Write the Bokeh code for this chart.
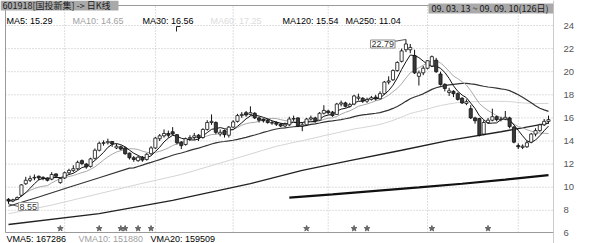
import pandas as pd
from bokeh.plotting import figure
from bokeh.models import Range1d, FixedTicker, Label
from bokeh.embed import file_html
from bokeh.resources import INLINE

# ---------------- data: 601918 daily bars, 2009-03-13 .. 2009-09-10 ----------------
opens = [8.95, 8.80, 8.95, 9.30, 10.30, 10.60, 10.80, 10.95, 10.85, 10.80,
         10.70, 11.15, 10.40, 10.80, 11.25, 11.45, 11.60, 12.30, 12.00, 11.80,
         12.50, 13.20, 13.80, 13.85, 13.95, 13.40, 13.50, 13.40, 12.95, 12.55,
         12.30, 12.60, 12.40, 12.90, 13.40, 14.20, 14.45, 14.65, 14.80, 14.55,
         13.90, 13.70, 14.20, 14.30, 14.50, 14.30, 15.00, 15.60, 15.60, 14.60,
         14.90, 14.50, 15.20, 15.70, 16.20, 16.45, 16.30, 16.40, 16.00, 15.90,
         15.80, 15.55, 15.60, 15.45, 15.30, 15.40, 15.90, 16.00, 15.30, 15.40,
         15.90, 16.00, 15.80, 16.40, 16.60, 16.50, 16.30, 17.20, 17.30, 17.00,
         17.20, 17.70, 17.70, 17.45, 17.60, 17.80, 17.65, 18.10, 19.10, 19.30,
         20.10, 20.90, 21.90, 21.90, 21.40, 19.60, 19.90, 20.30, 20.50, 21.00,
         19.80, 18.90, 18.20, 18.30, 18.10, 17.70, 17.25, 16.80, 16.00, 15.95,
         14.60, 15.60, 15.80, 16.10, 15.85, 15.90, 16.00, 15.20, 13.60, 13.45,
         13.50, 13.90, 14.60, 14.90, 15.40, 15.70]
highs = [9.05, 9.00, 9.20, 10.25, 10.90, 11.00, 11.10, 11.00, 10.95, 10.85,
         11.30, 11.20, 10.85, 11.35, 11.60, 11.90, 12.30, 12.40, 12.10, 12.55,
         13.35, 13.95, 14.05, 14.20, 14.00, 13.75, 13.60, 13.50, 13.00, 12.70,
         12.70, 12.70, 12.95, 13.55, 14.35, 14.60, 15.00, 14.90, 15.20, 14.60,
         14.00, 14.30, 14.50, 14.70, 14.60, 15.10, 15.80, 16.30, 15.70, 15.00,
         15.00, 15.30, 15.80, 16.35, 16.50, 16.60, 17.00, 16.50, 16.10, 15.95,
         15.90, 15.75, 15.70, 15.55, 15.60, 16.10, 16.20, 16.05, 15.60, 16.00,
         16.20, 16.10, 16.50, 17.10, 16.70, 16.60, 17.30, 17.50, 17.40, 17.30,
         18.00, 18.10, 17.80, 17.75, 17.90, 18.00, 18.30, 19.20, 19.60, 20.20,
         20.90, 22.00, 22.79, 22.40, 21.90, 20.10, 20.50, 21.00, 21.40, 21.20,
         20.00, 19.00, 18.60, 18.40, 18.20, 17.80, 17.60, 17.10, 16.10, 16.00,
         15.80, 16.00, 16.80, 16.20, 16.10, 16.60, 16.10, 15.30, 13.80, 13.70,
         14.00, 14.70, 15.10, 15.50, 15.90, 16.20]
lows = [8.55, 8.70, 8.90, 9.20, 10.20, 10.45, 10.60, 10.60, 10.60, 10.50,
        10.60, 10.80, 10.30, 10.70, 11.10, 11.30, 11.50, 11.90, 11.60, 11.70,
        12.40, 13.10, 13.60, 13.70, 13.50, 13.30, 13.20, 12.80, 12.40, 12.20,
        12.20, 12.20, 12.30, 12.80, 13.30, 14.00, 14.30, 14.30, 14.50, 13.70,
        13.30, 13.60, 14.00, 14.10, 14.00, 14.20, 14.90, 15.40, 14.60, 14.40,
        14.30, 14.30, 15.10, 15.60, 16.00, 16.10, 16.20, 15.90, 15.60, 15.60,
        15.50, 15.40, 15.30, 15.20, 15.20, 15.30, 15.70, 15.20, 14.85, 15.30,
        15.80, 15.60, 15.75, 16.30, 16.30, 16.10, 16.25, 17.00, 16.90, 16.90,
        17.10, 17.50, 17.30, 17.30, 17.50, 17.50, 17.60, 18.00, 18.90, 19.20,
        20.00, 20.80, 21.70, 21.60, 19.80, 18.80, 19.70, 20.20, 20.40, 19.90,
        18.80, 18.30, 17.90, 17.80, 17.50, 17.20, 17.10, 15.90, 15.50, 14.40,
        14.50, 15.50, 15.70, 15.70, 15.70, 15.80, 15.10, 13.80, 13.30, 13.30,
        13.40, 13.80, 14.40, 14.80, 15.30, 15.50]
closes = [8.80, 8.90, 9.10, 10.20, 10.60, 10.75, 10.85, 10.80, 10.75, 10.60,
          11.10, 10.95, 10.75, 11.25, 11.45, 11.60, 12.15, 12.05, 11.75, 12.45,
          13.20, 13.80, 13.85, 13.95, 13.75, 13.55, 13.30, 12.90, 12.55, 12.40,
          12.60, 12.35, 12.85, 13.40, 14.25, 14.45, 14.65, 14.50, 14.60, 13.85,
          13.60, 14.20, 14.30, 14.45, 14.30, 15.00, 15.60, 15.70, 14.75, 14.75,
          14.55, 15.20, 15.65, 16.20, 16.30, 16.25, 16.45, 16.00, 15.80, 15.75,
          15.60, 15.60, 15.45, 15.30, 15.45, 15.90, 15.95, 15.30, 15.40, 15.90,
          16.00, 15.75, 16.40, 16.65, 16.45, 16.20, 17.20, 17.30, 17.00, 17.15,
          17.90, 17.80, 17.45, 17.60, 17.75, 17.65, 18.10, 19.10, 19.20, 20.10,
          20.80, 21.80, 22.40, 22.10, 19.90, 19.90, 20.30, 20.95, 21.30, 20.00,
          18.90, 18.55, 18.35, 18.10, 17.60, 17.30, 17.40, 16.00, 15.75, 14.50,
          15.60, 15.80, 16.10, 15.85, 15.90, 16.05, 15.25, 13.90, 13.50, 13.55,
          13.85, 14.60, 14.90, 15.40, 15.70, 15.85]

# leading part of the 30/60-day averages (earlier sessions are outside the window)
ma30_head_idx = [0, 7, 14, 21, 28]
ma30_head_val = [8.35, 9.15, 10.00, 10.82, 11.65]
ma60_head_idx = [0, 10, 20, 30, 40, 50]
ma60_head_val = [7.70, 8.45, 9.35, 10.25, 11.10, 12.20]
# long averages sampled along the window
ma120_idx = [0, 21, 38, 56, 68, 79, 91, 102, 114, 125]
ma120_val = [6.77, 7.72, 8.85, 10.30, 11.45, 12.30, 13.20, 14.05, 14.80, 15.54]
ma250_idx = [65, 75, 85, 95, 105, 115, 125]
ma250_val = [9.10, 9.38, 9.68, 9.98, 10.30, 10.66, 11.04]

price_ticks = [6, 8, 10, 12, 14, 16, 18, 20, 22, 24]
month_start_idx = [13, 34, 52, 74, 97, 118]
event_idx = [12, 21, 26, 27, 30, 33, 69, 80, 83, 98, 111]
vma_names = ["VMA5", "VMA10", "VMA20"]
vma_values = [167286, 151880, 159509]
volume_top_tick = 500000
stock_title = "601918[国投新集] -> 日K线"
date_span = "09. 03. 13 ~ 09. 09. 10(126日)"

# ---------------- derived series ----------------
n = len(closes)
idx = list(range(n))
cs = pd.Series(closes)
ma5 = cs.rolling(5, min_periods=1).mean()
ma10 = cs.rolling(10, min_periods=1).mean()
ma30 = cs.rolling(30).mean()
ma60 = cs.rolling(60).mean()
ma30_x = ma30_head_idx + idx[29:]
ma30_y = ma30_head_val + list(ma30[29:])
ma60_x = ma60_head_idx + idx[59:]
ma60_y = ma60_head_val + list(ma60[59:])

# ---------------- canvas geometry (pixel helpers) ----------------
STEP = 4.32
X_FIRST = 8
PANEL_R = 553


def px_x(px):
    return (px - X_FIRST) / STEP


def px_y(py):
    return 24 - (py - 25) / 11.55


p = figure(width=600, height=243, output_backend="svg", toolbar_location=None,
           x_range=Range1d(px_x(0), px_x(PANEL_R)),
           y_range=Range1d(px_y(243), px_y(0)),
           x_axis_location=None, y_axis_location="right",
           min_border_left=0, min_border_right=47,
           min_border_top=0, min_border_bottom=0)
p.outline_line_color = None
p.grid.visible = False
p.background_fill_color = "white"

ax = p.yaxis[0]
ax.ticker = FixedTicker(ticks=price_ticks)
ax.axis_line_color = None
ax.major_tick_line_color = None
ax.minor_tick_line_color = None
ax.major_label_standoff = 4
ax.major_label_text_font = "Liberation Sans"
ax.major_label_text_font_size = "9.5px"
ax.major_label_text_color = "#555555"

# dotted grid
grid_levels = price_ticks[1:]
p.segment(x0=px_x(5), x1=px_x(PANEL_R), y0=grid_levels, y1=grid_levels,
          line_color="#bdbdbd", line_dash="1 2", line_width=1)
p.segment(x0=month_start_idx, x1=month_start_idx, y0=px_y(232), y1=px_y(5),
          line_color="#bdbdbd", line_dash="1 2", line_width=1)

# panel border
p.segment(x0=[px_x(5), px_x(PANEL_R), px_x(5), px_x(5)],
          x1=[px_x(5), px_x(PANEL_R), px_x(PANEL_R), px_x(PANEL_R)],
          y0=[px_y(5), px_y(0), px_y(232), px_y(5)],
          y1=[px_y(232), px_y(243), px_y(232), px_y(5)],
          line_color="#9a9a9a", line_width=1)

# moving averages
p.line(ma250_idx, ma250_val, line_color="#111111", line_width=2.2)
p.line(ma120_idx, ma120_val, line_color="#222222", line_width=1.3)
p.line(ma60_x, ma60_y, line_color="#d4d4d4", line_width=1)
p.line(ma30_x, ma30_y, line_color="#333333", line_width=1.2)
p.line(idx, list(ma10), line_color="#a8a8a8", line_width=1)
p.line(idx, list(ma5), line_color="#111111", line_width=1)

# candles
up = [c >= o for o, c in zip(opens, closes)]
body_top = [max(o, c) for o, c in zip(opens, closes)]
body_bot = [min(o, c) for o, c in zip(opens, closes)]
body_fill = ["white" if u else "#3a3a3a" for u in up]
p.segment(x0=idx, x1=idx, y0=lows, y1=highs, line_color="#111111", line_width=1)
p.vbar(x=idx, width=0.72, top=body_top, bottom=body_bot,
       fill_color=body_fill, line_color="#111111", line_width=0.8)

# high / low markers
hi_i = highs.index(max(highs))
lo_i = lows.index(min(lows))
p.segment(x0=hi_i, y0=max(highs), x1=px_x(393), y1=px_y(41),
          line_color="#555555", line_width=1)
p.add_layout(Label(x=px_x(370), y=px_y(43.5), text=f"{max(highs):.2f}",
                   text_font="Liberation Sans", text_font_size="9px",
                   text_color="#333333", text_baseline="middle",
                   border_line_color="#8a8a8a", background_fill_color="white",
                   padding=1))
p.segment(x0=lo_i, y0=min(lows), x1=px_x(18), y1=px_y(206),
          line_color="#555555", line_width=1)
p.add_layout(Label(x=px_x(18), y=px_y(206), text=f"{min(lows):.2f}",
                   text_font="Liberation Sans", text_font_size="9px",
                   text_color="#333333", text_baseline="middle",
                   border_line_color="#9a9a9a", background_fill_color="white",
                   padding=1))

# cursor mark
p.segment(x0=[px_x(176), px_x(176)], x1=[px_x(176), px_x(180)],
          y0=[px_y(26), px_y(26)], y1=[px_y(31), px_y(26)],
          line_color="#222222", line_width=1)

# event stars
p.scatter(event_idx, [px_y(228)] * len(event_idx), marker="star", size=6,
          fill_color="#666666", line_color="#666666")

# header strips
p.quad(left=px_x(0), right=px_x(118), top=px_y(0), bottom=px_y(10),
       fill_color="#a9a9a9", line_color=None)
p.quad(left=px_x(428), right=px_x(PANEL_R), top=px_y(3), bottom=px_y(13),
       fill_color="#a9a9a9", line_color=None)
p.add_layout(Label(x=px_x(2), y=px_y(5), text=stock_title,
                   text_font="Noto Sans CJK SC", text_font_size="9px",
                   text_color="#1a1a1a", text_baseline="middle"))
p.add_layout(Label(x=px_x(431), y=px_y(8), text=date_span,
                   text_font="Noto Sans CJK SC", text_font_size="9px",
                   text_color="#1a1a1a", text_baseline="middle"))

# moving average legend row
ma_entries = [("MA5", ma5.iloc[-1], "#000000", 6),
              ("MA10", ma10.iloc[-1], "#a0a0a0", 72),
              ("MA30", ma30.iloc[-1], "#000000", 142),
              ("MA60", ma60.iloc[-1], "#dcdcdc", 210),
              ("MA120", ma120_val[-1], "#000000", 282),
              ("MA250", ma250_val[-1], "#000000", 345)]
for name, v, col, xpx in ma_entries:
    p.add_layout(Label(x=px_x(xpx), y=px_y(20), text=f"{name}: {v:.2f}",
                       text_font="Liberation Sans", text_font_size="9px",
                       text_color=col, text_baseline="middle"))

# volume legend row
vma_x = [6, 78, 150]
vma_col = ["#000000", "#a0a0a0", "#000000"]
for name, v, col, xpx in zip(vma_names, vma_values, vma_col, vma_x):
    p.add_layout(Label(x=px_x(xpx), y=px_y(238), text=f"{name}: {v}",
                       text_font="Liberation Sans", text_font_size="9px",
                       text_color=col, text_baseline="middle"))
p.add_layout(Label(x=px_x(556), y=px_y(235), text=str(volume_top_tick),
                   text_font="Liberation Sans", text_font_size="8px",
                   text_color="#111111", text_baseline="top"))

open("out.html", "w").write(file_html(p, INLINE))
